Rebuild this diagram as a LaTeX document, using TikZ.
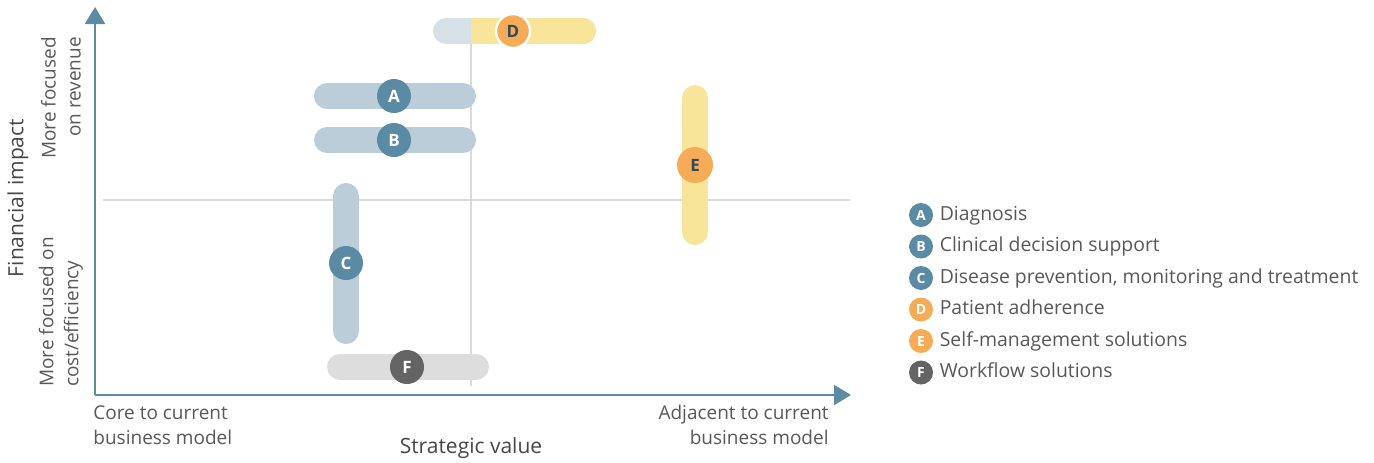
\documentclass[tikz,border=0pt]{standalone}
\usepackage{fontspec}
\setmainfont{Open Sans}
\usepackage{xcolor}
\usetikzlibrary{arrows.meta,positioning}

\definecolor{axisblue}{HTML}{5E8BA4}
\definecolor{markblue}{HTML}{5B8AA5}
\definecolor{barblue}{HTML}{BCCDDA}
\definecolor{barpale}{HTML}{D6E0E7}
\definecolor{baryellow}{HTML}{F8E59A}
\definecolor{markorange}{HTML}{F6AC57}
\definecolor{bargray}{HTML}{DDDDDD}
\definecolor{markgray}{HTML}{646464}
\definecolor{gridgray}{HTML}{DADADA}
\definecolor{textgray}{HTML}{585858}
\definecolor{letterdark}{HTML}{34495A}

\begin{document}
\begin{tikzpicture}[
    x=0.5pt, y=-0.5pt,
    every node/.style={text=textgray},
    axis/.style={-{Triangle[length=8.5pt,width=10pt]},line width=1.1pt,draw=axisblue},
    quadline/.style={line width=1pt,draw=gridgray},
    bar/.style={line width=13pt,line cap=round},
    dot/.style={circle,inner sep=0pt,minimum size=17pt,font=\bfseries\fontsize{8.5}{10}\selectfont,text=white},
    key/.style={circle,inner sep=0pt,minimum size=12pt,font=\bfseries\fontsize{7}{8}\selectfont,text=white},
    keytext/.style={right=1pt,inner sep=2pt,text height=7pt,text depth=2pt,font=\fontsize{9.7}{11}\selectfont},
    sidelabel/.style={align=center,font=\fontsize{9.5}{12.5}\selectfont},
    axistitle/.style={font=\fontsize{10.5}{12}\selectfont,text=textgray!80!black}
]
\useasboundingbox (0,0) rectangle (1374,462);

% quadrant lines
\draw[quadline] (103,200) -- (850,200);
\draw[quadline] (471,20) -- (471,386);

% bars
\draw[bar,barpale] (446,31) -- (583,31);
\begin{scope}
  \clip (471,0) rectangle (620,60);
  \draw[bar,baryellow] (446,31) -- (583,31);
\end{scope}
\draw[bar,barblue] (327,96) -- (463,96);
\draw[bar,barblue] (327,140) -- (463,140);
\draw[bar,barblue] (346,196) -- (346,331);
\draw[bar,baryellow] (695,98) -- (695,232);
\draw[bar,bargray] (340,367) -- (476,367);

% markers
\node[dot,fill=markorange,draw=white,line width=1.2pt,text=letterdark] (mD) at (513,31) {D};
\node[dot,fill=markblue] (mA) at (394,96) {A};
\node[dot,fill=markblue] (mB) at (394,140) {B};
\node[dot,fill=markblue] (mC) at (346,263) {C};
\node[dot,fill=markorange,text=letterdark,minimum size=18pt] (mE) at (695,165) {E};
\node[dot,fill=markgray] (mF) at (407,367) {F};

% axes
\coordinate (origin) at (95,395);
\coordinate (ytip) at (95,7);
\coordinate (xtip) at (851,395);
\draw[axis] (origin) -- (ytip);
\draw[axis] (origin) -- (xtip);

% axis labels
\node[axistitle,rotate=90] (ytitle) at (18,198) {Financial impact};
\node[sidelabel,align=right,rotate=90,anchor=east] (ytop) at (61,30) {More focused\\on revenue};
\node[sidelabel,align=left,rotate=90,anchor=west] (ybottom) at (61,394) {More focused on\\cost/efficiency};
\node[sidelabel,align=left,anchor=north west,inner sep=0pt] (xleft) at (93,405) {Core to current\\business model};
\node[sidelabel,align=right,anchor=north east,inner sep=0pt] (xright) at (829,405) {Adjacent to current\\business model};
\node[axistitle] (xtitle) at (471,448) {Strategic value};

% legend
\node[key,fill=markblue] (kA) at (921,215) {A};
\node[keytext] at (kA.east) {Diagnosis};
\node[key,fill=markblue] (kB) at (921,246.5) {B};
\node[keytext] at (kB.east) {Clinical decision support};
\node[key,fill=markblue] (kC) at (921,278) {C};
\node[keytext] at (kC.east) {Disease prevention, monitoring and treatment};
\node[key,fill=markorange] (kD) at (921,309.5) {D};
\node[keytext] at (kD.east) {Patient adherence};
\node[key,fill=markorange] (kE) at (921,341) {E};
\node[keytext] at (kE.east) {Self-management solutions};
\node[key,fill=markgray] (kF) at (921,372.5) {F};
\node[keytext] at (kF.east) {Workflow solutions};
\end{tikzpicture}
\end{document}
